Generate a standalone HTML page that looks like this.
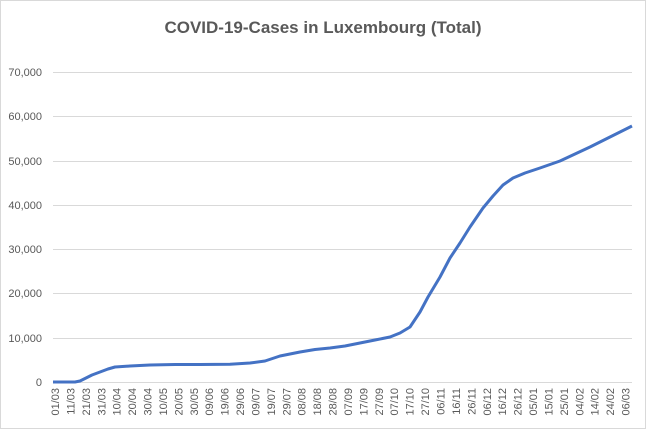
<!DOCTYPE html>
<html><head><meta charset="utf-8"><style>
body{margin:0;background:#fff;}
svg{display:block;font-family:"Liberation Sans",Calibri,sans-serif;}
</style></head><body>
<svg width="646" height="429" viewBox="0 0 646 429">
<rect x="0.5" y="0.5" width="645" height="428" fill="#fff" stroke="#d9d9d9"/>
<text x="323" y="33" text-anchor="middle" font-size="17" font-weight="bold" fill="#595959">COVID-19-Cases in Luxembourg (Total)</text>
<g stroke="#d9d9d9" stroke-width="1">
<line x1="53" x2="632" y1="72.5" y2="72.5"/>
<line x1="53" x2="632" y1="116.5" y2="116.5"/>
<line x1="53" x2="632" y1="161.5" y2="161.5"/>
<line x1="53" x2="632" y1="205.5" y2="205.5"/>
<line x1="53" x2="632" y1="249.5" y2="249.5"/>
<line x1="53" x2="632" y1="293.5" y2="293.5"/>
<line x1="53" x2="632" y1="338.5" y2="338.5"/>
<line x1="53" x2="632" y1="382.5" y2="382.5"/>
</g>
<g font-size="11" fill="#595959" text-anchor="end">
<text x="42" y="76">70,000</text>
<text x="42" y="120">60,000</text>
<text x="42" y="165">50,000</text>
<text x="42" y="209">40,000</text>
<text x="42" y="253">30,000</text>
<text x="42" y="297">20,000</text>
<text x="42" y="342">10,000</text>
<text x="42" y="386">0</text>
</g>
<g font-size="11" fill="#595959" text-anchor="end" id="xl"></g>
<polyline fill="none" stroke="#4472c4" stroke-width="3" stroke-linejoin="round" points="53,382 75,382 80,381 84,379 92,375 100,372 108,369 115,367 130,366 150,365 175,364.5 200,364.5 230,364.3 250,363 265,361 280,356 300,352 315,349.5 330,348 345,346 360,343 375,340 390,337 400,333 410,327 420,312 428,297 440,277 450,258 460,243 470,227 483,208 493,196 503,185 513,178 525,173 540,168 560,161 575,154 590,147 610,137 632,126"/>
</svg>
<script>
var labels="01/03 11/03 21/03 31/03 10/04 20/04 30/04 10/05 20/05 30/05 09/06 19/06 29/06 09/07 19/07 29/07 08/08 18/08 28/08 07/09 17/09 27/09 07/10 17/10 27/10 06/11 16/11 26/11 06/12 16/12 26/12 05/01 15/01 25/01 04/02 14/02 24/02 06/03".split(" ");
var g=document.getElementById("xl");var s="";
for(var i=0;i<labels.length;i++){var x=55+i*15.42+4;s+='<text transform="translate('+x.toFixed(1)+',388) rotate(-90)">'+labels[i]+'</text>';}
g.innerHTML=s;
</script>
</body></html>
